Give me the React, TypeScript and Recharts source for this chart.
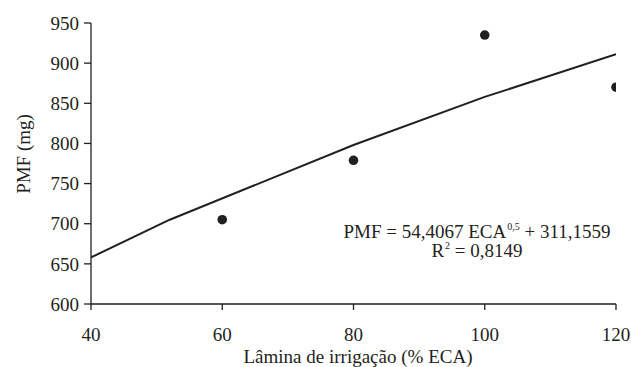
import { ComposedChart, Line, Scatter, XAxis, YAxis, Label } from "recharts";

const FONT = "'Liberation Serif', 'Times New Roman', serif";
const INK = "#231f20";

// observed means
const laminas = [60, 80, 100, 120];
const pmfObs = [705, 779, 935, 870];

// fitted curve
const fitX = [40, 52, 80, 100, 120];
const fitY = [658, 705, 798, 858, 911];

const xTicks = [40, 60, 80, 100, 120];
const yTicks = [600, 650, 700, 750, 800, 850, 900, 950];

const points = laminas.map((x, i) => ({ x, y: pmfObs[i] }));
const curve = fitX.map((x, i) => ({ x, y: fitY[i] }));

const Dot = (props: any) => <circle cx={props.cx} cy={props.cy} r={4.8} fill={INK} />;

const tickStyle = { fill: INK, fontSize: 19, fontFamily: FONT };
const supStyle = { fontSize: 10, verticalAlign: "top", lineHeight: "10px", marginLeft: 1 };

export default function App() {
	return (
		<div style={{ position: "absolute", left: 0, top: 0, width: 631, height: 367, background: "#fff" }}>
			<ComposedChart width={631} height={367} margin={{ top: 23, right: 15, left: 0, bottom: 0 }}>
				<XAxis
					type="number"
					dataKey="x"
					domain={[40, 120]}
					ticks={xTicks}
					allowDataOverflow
					height={63}
					tick={tickStyle}
					tickSize={6}
					tickMargin={18}
					axisLine={{ stroke: INK, strokeWidth: 1.3 }}
					tickLine={{ stroke: INK, strokeWidth: 1.3 }}
				>
					<Label
						content={() => (
							<text x={358} y={363} textAnchor="middle" fill={INK} fontSize={19} fontFamily={FONT}>
								Lâmina de irrigação (% ECA)
							</text>
						)}
					/>
				</XAxis>
				<YAxis
					type="number"
					dataKey="y"
					domain={[600, 950]}
					ticks={yTicks}
					allowDataOverflow
					width={91}
					tick={tickStyle}
					tickSize={7}
					tickMargin={5}
					axisLine={{ stroke: INK, strokeWidth: 1.3 }}
					tickLine={{ stroke: INK, strokeWidth: 1.3 }}
				>
					<Label
						content={() => (
							<text
								x={30}
								y={154}
								transform="rotate(-90 30 154)"
								textAnchor="middle"
								fill={INK}
								fontSize={19}
								fontFamily={FONT}
							>
								PMF (mg)
							</text>
						)}
					/>
				</YAxis>
				<Line
					data={curve}
					dataKey="y"
					type="linear"
					stroke={INK}
					strokeWidth={2}
					dot={false}
					activeDot={false}
					isAnimationActive={false}
				/>
				<Scatter data={points} dataKey="y" fill={INK} shape={Dot} isAnimationActive={false} />
			</ComposedChart>
			<div
				style={{
					position: "absolute",
					left: 317,
					top: 222,
					width: 320,
					textAlign: "center",
					fontFamily: FONT,
					fontSize: 19,
					lineHeight: "19px",
					color: INK,
				}}
			>
				<div>
					PMF = 54,4067 ECA<span style={supStyle}>0,5</span> + 311,1559
				</div>
				<div>
					R<span style={supStyle}>2</span> = 0,8149
				</div>
			</div>
		</div>
	);
}
